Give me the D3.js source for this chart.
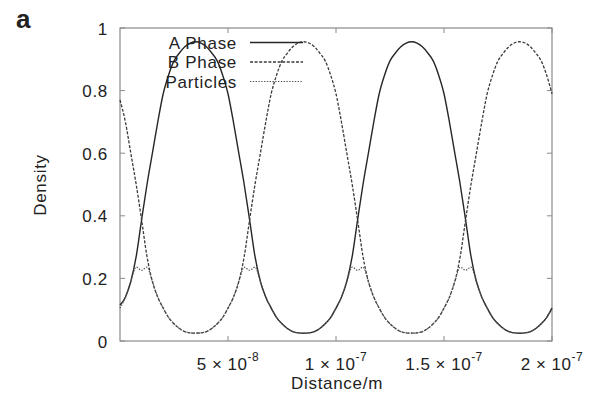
<!DOCTYPE html>
<html>
<head>
<meta charset="utf-8">
<script src="https://cdn.jsdelivr.net/npm/d3@7"></script>
<style>
  body { margin: 0; background: #fff; }
  text { font-family: "Liberation Sans", Arial, sans-serif; fill: #222; }
</style>
</head>
<body>
<div id="chartDiv"></div>
<script>
// density profiles along the film
// distance in nm (plotted in metres)
var distanceNm = [0, 2.5, 5, 7.5, 10, 12.5, 15, 17.5, 20, 22.5, 25, 27.5, 30, 32.5, 35, 37.5, 40, 42.5, 45, 47.5,
	50, 52.5, 55, 57.5, 60, 62.5, 65, 67.5, 70, 72.5, 75, 77.5, 80, 82.5, 85, 87.5, 90, 92.5, 95, 97.5,
	100, 102.5, 105, 107.5, 110, 112.5, 115, 117.5, 120, 122.5, 125, 127.5, 130, 132.5, 135, 137.5, 140, 142.5, 145, 147.5,
	150, 152.5, 155, 157.5, 160, 162.5, 165, 167.5, 170, 172.5, 175, 177.5, 180, 182.5, 185, 187.5, 190, 192.5, 195, 197.5, 200];

var aPhase = [0.115, 0.140, 0.190, 0.270, 0.387, 0.500, 0.600, 0.700, 0.790, 0.850, 0.895, 0.920, 0.940, 0.952, 0.956, 0.952, 0.940, 0.920, 0.895, 0.850,
	0.790, 0.700, 0.600, 0.500, 0.387, 0.270, 0.190, 0.140, 0.105, 0.075, 0.055, 0.040, 0.030, 0.026, 0.025, 0.026, 0.030, 0.040, 0.055, 0.075,
	0.105, 0.140, 0.190, 0.270, 0.387, 0.500, 0.600, 0.700, 0.790, 0.850, 0.895, 0.920, 0.940, 0.952, 0.956, 0.952, 0.940, 0.920, 0.895, 0.850,
	0.790, 0.700, 0.600, 0.500, 0.387, 0.270, 0.190, 0.140, 0.105, 0.075, 0.055, 0.040, 0.030, 0.026, 0.025, 0.026, 0.030, 0.040, 0.055, 0.075, 0.105];

var bPhase = [0.770, 0.700, 0.600, 0.500, 0.387, 0.270, 0.190, 0.140, 0.105, 0.075, 0.055, 0.040, 0.030, 0.026, 0.025, 0.026, 0.030, 0.040, 0.055, 0.075,
	0.105, 0.140, 0.190, 0.270, 0.387, 0.500, 0.600, 0.700, 0.790, 0.850, 0.895, 0.920, 0.940, 0.952, 0.956, 0.952, 0.940, 0.920, 0.895, 0.850,
	0.790, 0.700, 0.600, 0.500, 0.387, 0.270, 0.190, 0.140, 0.105, 0.075, 0.055, 0.040, 0.030, 0.026, 0.025, 0.026, 0.030, 0.040, 0.055, 0.075,
	0.105, 0.140, 0.190, 0.270, 0.387, 0.500, 0.600, 0.700, 0.790, 0.850, 0.895, 0.920, 0.940, 0.952, 0.956, 0.952, 0.940, 0.920, 0.895, 0.850, 0.790];

var particles = [0.105, 0.140, 0.190, 0.236, 0.226, 0.236, 0.190, 0.140, 0.105, 0.075, 0.055, 0.040, 0.030, 0.026, 0.025, 0.026, 0.030, 0.040, 0.055, 0.075,
	0.105, 0.140, 0.190, 0.236, 0.226, 0.236, 0.190, 0.140, 0.105, 0.075, 0.055, 0.040, 0.030, 0.026, 0.025, 0.026, 0.030, 0.040, 0.055, 0.075,
	0.105, 0.140, 0.190, 0.236, 0.226, 0.236, 0.190, 0.140, 0.105, 0.075, 0.055, 0.040, 0.030, 0.026, 0.025, 0.026, 0.030, 0.040, 0.055, 0.075,
	0.105, 0.140, 0.190, 0.236, 0.226, 0.236, 0.190, 0.140, 0.105, 0.075, 0.055, 0.040, 0.030, 0.026, 0.025, 0.026, 0.030, 0.040, 0.055, 0.075, 0.105];

var seriesNames = ["A Phase", "B Phase", "Particles"];
var xTickValues = [5e-8, 1e-7, 1.5e-7, 2e-7];
var xTickMantissa = ["5", "1", "1.5", "2"];
var xTickExponent = ["-8", "-7", "-7", "-7"];
var yTickValues = [0, 0.2, 0.4, 0.6, 0.8, 1];
var yTickLabels = ["0", "0.2", "0.4", "0.6", "0.8", "1"];

var width = 600;
var height = 400;
var margin = { top: 28, right: 48, bottom: 59, left: 120 };
var fontSize = 17;
var chart;

init();

function init() {
	chart = d3.select("#chartDiv").append("svg")
		.attr("width", width)
		.attr("height", height);

	chart.xScale = d3.scaleLinear()
		.domain([0, 2e-7])
		.range([margin.left, width - margin.right]);

	chart.yScale = d3.scaleLinear()
		.domain([0, 1])
		.range([height - margin.bottom, margin.top]);

	drawFrame();
	drawCurves();
	drawLegend();
	drawLabels();
}

function drawFrame() {
	var x0 = chart.xScale.range()[0], x1 = chart.xScale.range()[1];
	var y0 = chart.yScale.range()[0], y1 = chart.yScale.range()[1];

	chart.append("rect")
		.attr("x", x0).attr("y", y1)
		.attr("width", x1 - x0).attr("height", y0 - y1)
		.attr("fill", "none")
		.attr("stroke", "#8a8a8a")
		.attr("stroke-width", 1.2);

	// inward ticks, mirrored on both sides like gnuplot
	var ticks = chart.append("g").attr("stroke", "#8a8a8a").attr("stroke-width", 1);
	yTickValues.forEach(function(v) {
		var y = chart.yScale(v);
		ticks.append("line").attr("x1", x0).attr("x2", x0 + 5).attr("y1", y).attr("y2", y);
		ticks.append("line").attr("x1", x1).attr("x2", x1 - 5).attr("y1", y).attr("y2", y);
	});
	xTickValues.forEach(function(v) {
		var x = chart.xScale(v);
		ticks.append("line").attr("x1", x).attr("x2", x).attr("y1", y0).attr("y2", y0 - 5);
		ticks.append("line").attr("x1", x).attr("x2", x).attr("y1", y1).attr("y2", y1 + 5);
	});

	// y tick labels
	chart.selectAll(".ylab")
		.data(yTickValues)
		.enter().append("text")
		.attr("class", "ylab")
		.attr("x", x0 - 12)
		.attr("y", function(d) { return chart.yScale(d) + 6.5; })
		.attr("text-anchor", "end")
		.style("font-size", fontSize + "px")
		.style("letter-spacing", "0.7px")
		.text(function(d, i) { return yTickLabels[i]; });

	// x tick labels with superscript exponent
	var xl = chart.selectAll(".xlab")
		.data(xTickValues)
		.enter().append("text")
		.attr("class", "xlab")
		.attr("x", function(d) { return chart.xScale(d); })
		.attr("y", y0 + 29)
		.attr("text-anchor", "middle")
		.style("font-size", fontSize + "px")
		.style("letter-spacing", "0.5px");
	xl.append("tspan").text(function(d, i) { return xTickMantissa[i] + " \u00d7 10"; });
	xl.append("tspan")
		.attr("dy", -9)
		.style("font-size", "12px")
		.text(function(d, i) { return xTickExponent[i]; });
}

function drawCurves() {
	var series = [
		{ name: seriesNames[0], values: aPhase, dash: null, color: "#262626", w: 1.4 },
		{ name: seriesNames[1], values: bPhase, dash: "3,1.6", color: "#3a3a3a", w: 1.3 },
		{ name: seriesNames[2], values: particles, dash: "1.4,1.4", color: "#555", w: 1.2 }
	];

	var line = d3.line()
		.x(function(d) { return chart.xScale(d[0] * 1e-9); })
		.y(function(d) { return chart.yScale(d[1]); })
		.curve(d3.curveMonotoneX);

	chart.selectAll(".curve")
		.data(series)
		.enter().append("path")
		.attr("class", "curve")
		.attr("fill", "none")
		.attr("stroke", function(d) { return d.color; })
		.attr("stroke-width", function(d) { return d.w; })
		.attr("stroke-dasharray", function(d) { return d.dash; })
		.attr("d", function(d) {
			return line(distanceNm.map(function(x, i) { return [x, d.values[i]]; }));
		});

	chart.series = series;
}

function drawLegend() {
	var legend = chart.append("g").attr("class", "legend");
	chart.series.forEach(function(s, i) {
		var cy = 42.5 + i * 19.5;
		legend.append("text")
			.attr("x", 237)
			.attr("y", cy + 6)
			.attr("text-anchor", "end")
			.style("font-size", fontSize + "px")
			.style("letter-spacing", "0.7px")
			.text(s.name);
		legend.append("line")
			.attr("x1", 250).attr("x2", 303)
			.attr("y1", cy).attr("y2", cy)
			.attr("stroke", s.color)
			.attr("stroke-width", s.w)
			.attr("stroke-dasharray", s.dash);
	});
}

function drawLabels() {
	chart.append("text")
		.attr("x", 337)
		.attr("y", 389)
		.attr("text-anchor", "middle")
		.style("font-size", fontSize + "px")
		.style("letter-spacing", "0.7px")
		.text("Distance/m");

	chart.append("text")
		.attr("text-anchor", "middle")
		.attr("transform", "translate(46,185) rotate(-90)")
		.style("font-size", fontSize + "px")
		.style("letter-spacing", "0.7px")
		.text("Density");

	// panel letter
	chart.append("text")
		.attr("x", 16)
		.attr("y", 28)
		.style("font-size", "26px")
		.style("font-weight", "bold")
		.text("a");
}
</script>
</body>
</html>
